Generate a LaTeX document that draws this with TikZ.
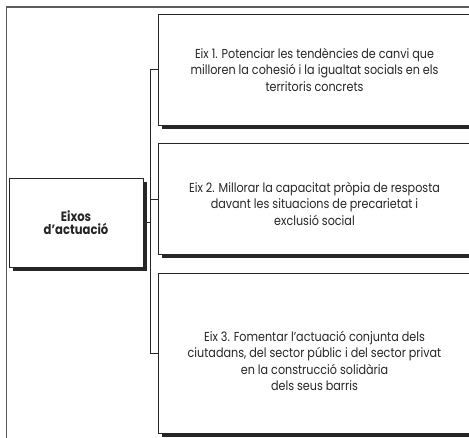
\documentclass[tikz,border=0pt]{standalone}
\usepackage{fontspec}
\setmainfont[FakeStretch=0.86]{Poppins}
\usetikzlibrary{positioning, shadows}
\definecolor{frameGray}{HTML}{5C5C5C}
\definecolor{inkDark}{HTML}{262626}
\newcommand{\topgap}[1]{\rule{0pt}{#1}}

\begin{document}
\begin{tikzpicture}[
    x=1pt, y=-1pt,
    node distance=18pt,
    axisbox/.style={rectangle, draw=inkDark, fill=white, line width=0.9pt,
                minimum width=313pt, align=center, text=inkDark,
                font=\fontsize{13}{16.5}\selectfont,
                drop shadow={shadow xshift=3.5pt, shadow yshift=-3.5pt,
                             fill=inkDark, opacity=1}},
    rootbox/.style={axisbox, minimum width=134pt, minimum height=89pt,
                font=\fontsize{13.5}{13.5}\selectfont\bfseries},
    link/.style={draw=inkDark, line width=0.9pt},
    frame/.style={draw=frameGray, line width=1.5pt},
  ]
    \useasboundingbox (0,0) rectangle (469,437);
    \clip (0,0) rectangle (469,437);

    % outer frame
    \draw[frame] (6.5,480) |- (480,7);

    \node[rootbox] (eixos) at (76,222.5) {Eixos\\d’actuació};

    \node[axisbox, minimum height=111pt] (b1) at (314.5,69.5)
      {Eix 1. Potenciar les tendències de canvi que\\
       milloren la cohesió i la igualtat socials en els\\
       territoris concrets};
    \node[axisbox, minimum height=111pt, below=of b1] (b2)
      {\topgap{19pt}Eix 2. Millorar la capacitat pròpia de resposta\\
       davant les situacions de precarietat i\\
       exclusió social};
    \node[axisbox, minimum height=160pt, below=of b2] (b3)
      {\topgap{25pt}Eix 3. Fomentar l’actuació conjunta dels\\
       ciutadans, del sector públic i del sector privat\\
       en la construcció solidària\\
       dels seus barris};

    % connectors
    \coordinate (bus) at (150.5,0);
    \draw[link] (b1.west) -- (b1.west -| bus) -- (b3.west -| bus) -- (b3.west);
    \draw[link] (b2.west) -- (b2.west -| bus);
    \draw[link] (eixos.east) -- (eixos.east -| bus);
  \end{tikzpicture}
\end{document}
